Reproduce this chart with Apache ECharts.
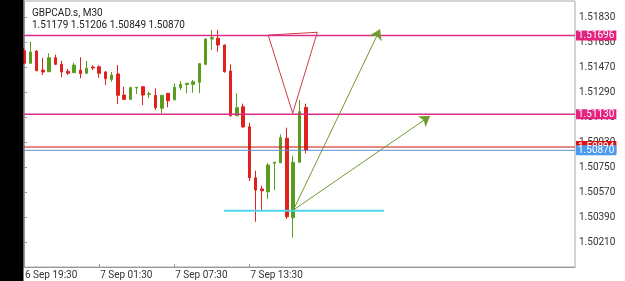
<!DOCTYPE html>
<html><head><meta charset="utf-8">
<script src="https://cdn.jsdelivr.net/npm/echarts@6/dist/echarts.min.js"></script>
<style>html,body{margin:0;padding:0;background:#fff}#c{width:625px;height:281px}</style>
</head><body><div id="c"></div>
<script>
const symbolName = 'GBPCAD.s, M30';
const tickLabels = ['6 Sep 19:30', '7 Sep 01:30', '7 Sep 07:30', '7 Sep 13:30'];
const barsPerLabel = 12;
const totalSlots = 89;

const opens = [1.51587,1.51497,1.51585,1.51448,1.51436,1.51537,1.51489,1.51439,1.51429,1.51448,
1.51425,1.51470,1.51472,1.51434,1.51381,1.51420,1.51268,1.51237,1.51319,1.51328,
1.51273,1.51266,1.51173,1.51281,1.51234,1.51321,1.51344,1.51345,1.51360,1.51489,
1.51672,1.51677,1.51628,1.51441,1.51119,1.51184,1.51040,1.50673,1.50592,1.50572,
1.50777,1.50781,1.50957,1.50385,1.50784,1.51179];
const closes = [1.51497,1.51578,1.51443,1.51434,1.51537,1.51489,1.51434,1.51425,1.51484,1.51422,
1.51461,1.51463,1.51425,1.51386,1.51412,1.51266,1.51237,1.51321,1.51324,1.51268,
1.51278,1.51177,1.51266,1.51227,1.51324,1.51345,1.51353,1.51364,1.51494,1.51672,
1.51681,1.51628,1.51436,1.51119,1.51177,1.51038,1.50673,1.50584,1.50579,1.50764,
1.50784,1.50961,1.50392,1.50784,1.51148,1.50870];
const lows = [1.51492,1.51495,1.51441,1.51412,1.51434,1.51484,1.51396,1.51412,1.51427,1.51389,
1.51423,1.51448,1.51393,1.51340,1.51364,1.51204,1.51232,1.51236,1.51276,1.51196,
1.51245,1.51160,1.51137,1.51180,1.51230,1.51304,1.51281,1.51285,1.51281,1.51488,
1.51592,1.51580,1.51429,1.51112,1.51117,1.51034,1.50649,1.50356,1.50440,1.50520,
1.50584,1.50777,1.50376,1.50241,1.50782,1.50849];
const highs = [1.51607,1.51652,1.51592,1.51535,1.51569,1.51559,1.51515,1.51456,1.51501,1.51540,
1.51513,1.51481,1.51481,1.51441,1.51434,1.51484,1.51328,1.51328,1.51324,1.51333,
1.51292,1.51317,1.51268,1.51283,1.51353,1.51369,1.51353,1.51376,1.51495,1.51675,
1.51736,1.51736,1.51632,1.51489,1.51281,1.51206,1.51069,1.50723,1.50615,1.50777,
1.50784,1.50985,1.51033,1.50831,1.51232,1.51206];

// horizontal levels
const pinkLevels = [1.51696, 1.51130];
const askLevel = 1.50894;
const bidLevel = 1.50870;
// drawings (x in bar slots, y in price)
const triangleX = [39.0, 46.84, 42.91, 39.0];
const triangleY = [1.51700, 1.51720, 1.51137, 1.51700];
const cyanX = [31.94, 57.5];
const cyanY = [1.50435, 1.50435];
const arrowStart = [43.01, 1.50440];
const arrowEndsX = [56.86, 64.84];
const arrowEndsY = [1.51741, 1.51117];

const yMin = 1.50030, yMax = 1.519452, yStep = 0.0018;

const categories = [];
for (let i = 0; i < totalSlots; i++) categories.push(String(i));
const candleData = opens.map((o, i) => [o, closes[i], lows[i], highs[i]]);
const last = opens.length - 1;
const ohlcText = [opens[last], highs[last], lows[last], closes[last]].map(v => v.toFixed(5)).join(' ');
const isLabelIdx = (idx) => idx % barsPerLabel === 0 && idx / barsPerLabel < tickLabels.length;

const levelSeries = (v, color, width, bg, z, pad) => ({
  type: 'line', xAxisIndex: 1, silent: true, z: z, symbol: 'none', clip: false,
  data: [[0, v], [totalSlots - 1, v]],
  lineStyle: {color: color, width: width, type: 'solid'},
  itemStyle: {color: color},
  labelLayout: {hideOverlap: false},
  endLabel: {show: true, distance: 1, color: '#fff', backgroundColor: bg,
    fontSize: 10, lineHeight: 10, padding: pad || [0, 2], fontFamily: 'Roboto',
    formatter: () => v.toFixed(5)}
});

const chart = echarts.init(document.getElementById('c'), null, {renderer: 'canvas'});
chart.setOption({
  animation: false,
  textStyle: {fontFamily: 'Roboto'},
  title: {
    text: symbolName, subtext: ohlcText, left: 27, top: 3, itemGap: 2,
    textStyle: {fontSize: 10, fontWeight: 'normal', color: '#222', fontFamily: 'Roboto'},
    subtextStyle: {fontSize: 10, color: '#222', fontFamily: 'Roboto'}
  },
  grid: {left: 24, right: 50, top: 1, bottom: 14, show: true, borderColor: '#aaa', borderWidth: 1},
  xAxis: [{
    type: 'category', data: categories, boundaryGap: false,
    axisLine: {lineStyle: {color: '#999'}},
    axisTick: {show: true, inside: true, length: 3, interval: (i) => isLabelIdx(i), lineStyle: {color: '#999'}},
    axisLabel: {interval: (i) => isLabelIdx(i), align: 'left', margin: 3, fontSize: 10, color: '#333',
      padding: [0, 0, 0, 1],
      formatter: (v, idx) => isLabelIdx(idx) ? tickLabels[idx / barsPerLabel] : ''},
    splitLine: {show: false}
  }, {
    type: 'value', min: 0, max: totalSlots - 1, show: false, gridIndex: 0
  }],
  yAxis: [{
    type: 'value', position: 'right', min: yMin, max: yMax, interval: yStep,
    axisLine: {show: true, lineStyle: {color: '#999'}},
    axisTick: {show: true, length: 3, lineStyle: {color: '#999'}},
    axisLabel: {showMinLabel: false, showMaxLabel: false, margin: 4, fontSize: 10, color: '#333',
      formatter: v => v.toFixed(5)},
    splitLine: {show: false}
  }],
  graphic: [{type: 'rect', shape: {x: 0, y: 0, width: 23.5, height: 281}, style: {fill: '#000'}, z: 100}],
  series: [
    {
      type: 'candlestick', data: candleData, barWidth: 3, clip: true,
      itemStyle: {color: '#5a9c1e', color0: '#e0221c', borderColor: '#5a9c1e', borderColor0: '#e0221c', borderWidth: 1}
    },
    {
      type: 'line', xAxisIndex: 1, symbol: 'none', silent: true,
      data: triangleX.map((x, i) => [x, triangleY[i]]),
      lineStyle: {color: '#cf3b46', width: 1}
    },
    {
      type: 'line', xAxisIndex: 1, symbol: 'none', silent: true,
      data: cyanX.map((x, i) => [x, cyanY[i]]),
      lineStyle: {color: '#4fd6ee', width: 2}
    },
    {
      type: 'line', xAxisIndex: 1, data: [], silent: true,
      markLine: {
        silent: true, symbol: ['none', 'arrow'], symbolSize: 10,
        label: {show: false},
        lineStyle: {color: '#6e9b2c', width: 1, type: 'solid'},
        data: arrowEndsX.map((x, i) => [{coord: arrowStart}, {coord: [x, arrowEndsY[i]]}])
      }
    },
    levelSeries(pinkLevels[0], '#dc2d88', 1.5, '#e6227f', 3),
    levelSeries(pinkLevels[1], '#dc2d88', 1.5, '#e6227f', 3),
    levelSeries(askLevel, '#c81414', 1, '#dd1111', 4, [2, 2, 0, 2]),
    levelSeries(bidLevel, '#5b8fd6', 1, '#4a9bf0', 5)
  ]
});
</script></body></html>
